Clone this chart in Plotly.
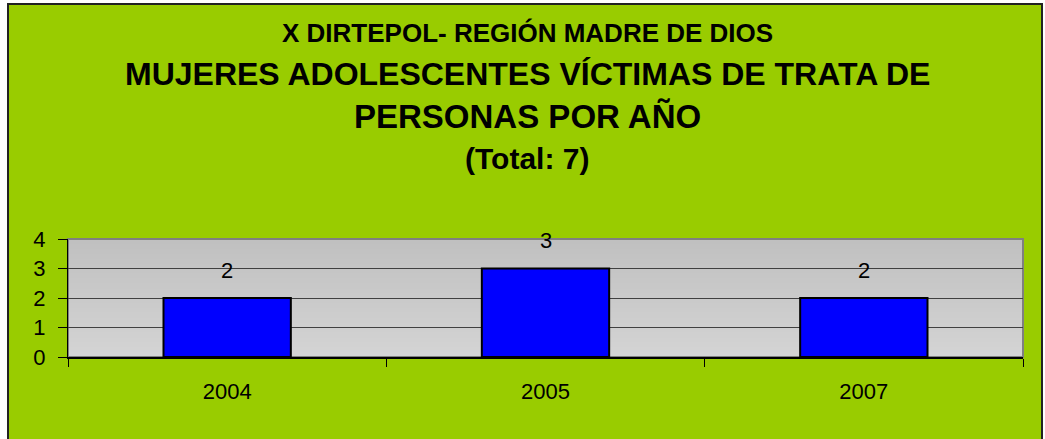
import plotly.graph_objects as go

years = ["2004", "2005", "2007"]
victims = [2, 3, 2]
title_lines = [
    "X DIRTEPOL- REGIÓN MADRE DE DIOS",
    "MUJERES ADOLESCENTES VÍCTIMAS DE TRATA DE",
    "PERSONAS POR AÑO",
    "(Total: 7)",
]

W, H = 1045, 439
L, R, T, B = 68, 22, 239, 82
PW, PH = W - L - R, H - T - B
FONT = "Liberation Sans, Arial, sans-serif"


def px_x(px):
    return (px - L) / PW


def px_y(py):
    return (H - B - py) / PH


fig = go.Figure()
fig.add_trace(go.Bar(
    x=years, y=victims, width=0.4,
    marker=dict(color="#0000FF", line=dict(color="#000000", width=2)),
    hoverinfo="skip",
))

shapes = []
# outer frame (green background with dark border)
shapes.append(dict(type="rect", xref="paper", yref="paper", layer="below",
                   x0=px_x(8), x1=px_x(1042), y0=px_y(445), y1=px_y(4),
                   fillcolor="#99CC00", line=dict(color="#222222", width=2)))
# plot area vertical gradient (darker top, lighter bottom), stacked to avoid seams
n = 24
c_top, c_bot = (192, 192, 192), (212, 212, 212)
for i in range(n):
    f = (i + 0.5) / n
    c = tuple(round(c_bot[k] + (c_top[k] - c_bot[k]) * f) for k in range(3))
    shapes.append(dict(type="rect", xref="paper", yref="paper", layer="below",
                       x0=0, x1=1, y0=i / n, y1=1,
                       fillcolor="rgb(%d,%d,%d)" % c, line=dict(width=0)))
# plot area outline (gray top/right)
shapes.append(dict(type="rect", xref="paper", yref="paper", layer="below",
                   x0=0, x1=1, y0=0, y1=1,
                   fillcolor="rgba(0,0,0,0)", line=dict(color="#808080", width=2)))

annotations = []
title_specs = [(26, 33), (32, 74), (33, 116), (30, 158)]
for text, (size, py) in zip(title_lines, title_specs):
    annotations.append(dict(text="<b>%s</b>" % text, xref="paper", yref="paper",
                            x=px_x(527), y=px_y(py), xanchor="center", yanchor="middle",
                            showarrow=False, font=dict(family=FONT, size=size, color="#000000")))
for i, v in enumerate(victims):
    annotations.append(dict(text=str(v), x=i, y=v, xref="x", yref="y",
                            yanchor="middle", yshift=28, showarrow=False,
                            font=dict(family=FONT, size=22, color="#000000")))

fig.update_layout(
    width=W, height=H,
    margin=dict(l=L, r=R, t=T, b=B, pad=0, autoexpand=False),
    paper_bgcolor="#FFFFFF",
    plot_bgcolor="rgba(0,0,0,0)",
    showlegend=False,
    shapes=shapes,
    annotations=annotations,
    font=dict(family=FONT, size=22, color="#000000"),
    bargap=0.6,
)
fig.update_xaxes(
    type="category", range=[-0.5, len(years) - 0.5], automargin=False,
    tickson="boundaries", ticks="outside", ticklen=8, tickangle=0,
    tickcolor="#000000", tickwidth=1, showline=True, linecolor="#000000",
    linewidth=2, showgrid=False, tickfont=dict(size=22), ticklabelstandoff=14,
)
fig.update_yaxes(
    range=[0, 4], dtick=1, ticks="outside", ticklen=9, tickcolor="#000000",
    automargin=False,
    tickwidth=1, showline=True, linecolor="#000000", linewidth=1,
    showgrid=True, gridcolor="#404040", gridwidth=1, zeroline=False,
    tickfont=dict(size=22), ticklabelstandoff=8,
)

fig.write_html("out.html", config={"displayModeBar": False},
               post_script="document.body.style.margin='0';")
